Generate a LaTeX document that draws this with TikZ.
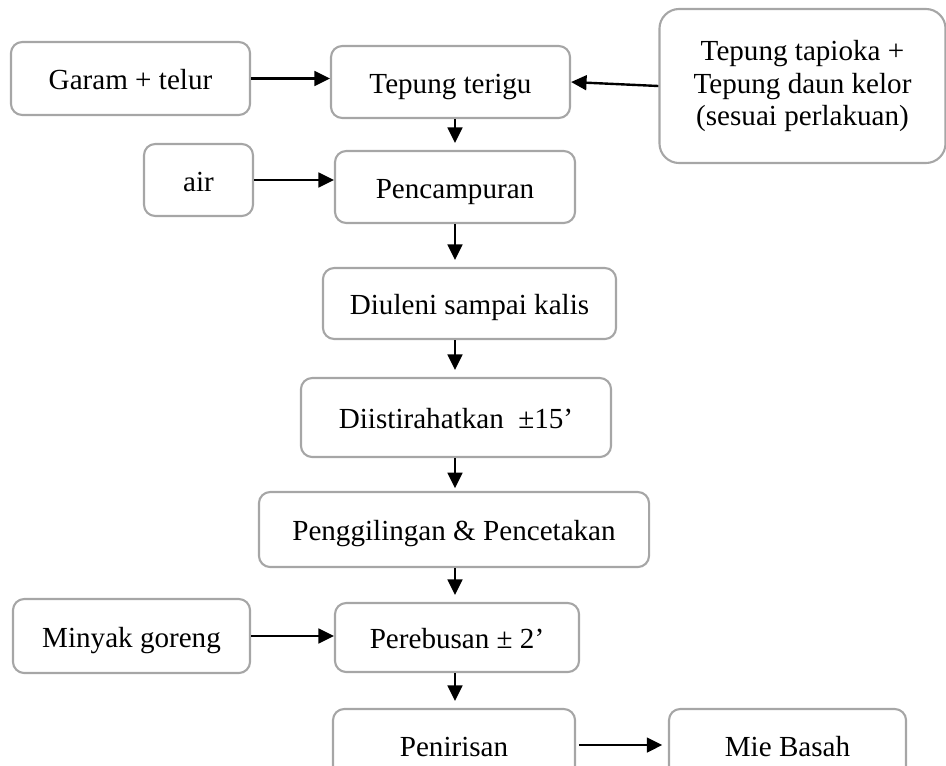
\documentclass[tikz,border=0pt]{standalone}
\usepackage{fontspec}
\setmainfont{Liberation Serif}
\usetikzlibrary{arrows.meta}
\tikzset{
  box/.style={draw=black!35,line width=1.5pt,rounded corners=8pt,align=center,
    inner sep=2pt,font=\fontsize{20.7}{23}\selectfont},
  line/.style={box,text height=20pt,text depth=4pt},
  arr/.style={-{Triangle[length=11pt,width=10.5pt]},line width=1.7pt},
}
\begin{document}
\begin{tikzpicture}[x=0.025cm,y=-0.025cm]
  \useasboundingbox (0,0) rectangle (946,765);
  % bahan
  \node[line,minimum width=5.975cm,minimum height=1.825cm] (garam) at (130.5,78.5) {Garam + telur};
  \node[box,minimum width=7.15cm,minimum height=3.85cm,rounded corners=14pt] (tapioka) at (802.5,86)
    {Tepung tapioka +\\Tepung daun kelor\\(sesuai perlakuan)};
  \node[line,minimum width=2.725cm,minimum height=1.8cm] (air) at (198.5,180) {air};
  \node[line,minimum width=5.925cm,minimum height=1.85cm] (minyak) at (131.5,636) {Minyak goreng};
  % proses
  \node[line,minimum width=5.975cm,minimum height=1.8cm] (terigu) at (450.5,82) {Tepung terigu};
  \node[line,minimum width=6cm,minimum height=1.8cm] (campur) at (455,187) {Pencampuran};
  \node[line,minimum width=7.325cm,minimum height=1.775cm] (uleni) at (469.5,303.5) {Diuleni sampai kalis};
  \node[line,minimum width=7.75cm,minimum height=1.975cm] (istirahat) at (456,417.5) {Diistirahatkan\ \ ±15’};
  \node[line,minimum width=9.75cm,minimum height=1.875cm] (giling) at (454,529.5) {Penggilingan \& Pencetakan};
  \node[line,minimum width=6.1cm,minimum height=1.725cm] (rebus) at (457,637.5) {Perebusan ± 2’};
  \node[line,minimum width=6.05cm,minimum height=1.8cm] (tiris) at (454,745) {Penirisan};
  \node[line,minimum width=5.925cm,minimum height=1.8cm] (mie) at (787.5,745) {Mie Basah};
  % panah
  \coordinate (spine) at (455,0);
  \draw[arr] (garam.east) -- (garam.east -| terigu.west);
  \draw[arr] (tapioka.west) -- (terigu.east);
  \draw[arr] (air.east) -- (air.east -| campur.west);
  \draw[arr] (minyak.east) -- (minyak.east -| rebus.west);
  \draw[arr,shorten >=5pt] (spine |- terigu.south) -- (spine |- campur.north);
  \draw[arr,shorten >=5pt] (spine |- campur.south) -- (spine |- uleni.north);
  \draw[arr,shorten >=5pt] (spine |- uleni.south) -- (spine |- istirahat.north);
  \draw[arr,shorten >=2pt] (spine |- istirahat.south) -- (spine |- giling.north);
  \draw[arr,shorten >=5pt] (spine |- giling.south) -- (spine |- rebus.north);
  \draw[arr,shorten >=5pt] (spine |- rebus.south) -- (spine |- tiris.north);
  \draw[arr,shorten <=2pt,shorten >=4pt] (tiris.east) -- (mie.west);
\end{tikzpicture}
\end{document}
